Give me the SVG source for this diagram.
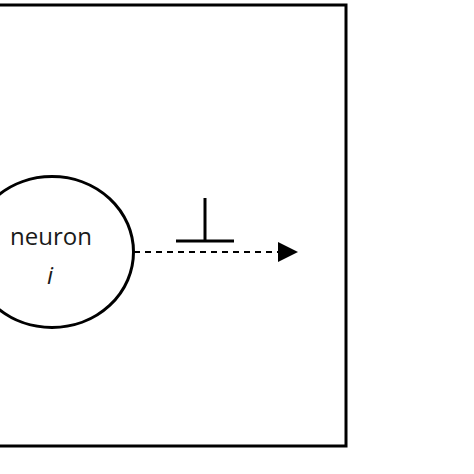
<svg xmlns="http://www.w3.org/2000/svg" width="474" height="474" viewBox="0 0 474 474">
<style>
.line{stroke:#000;stroke-width:3;fill:none}
.lbl{font-family:"Open Sans","Noto Sans",sans-serif;font-size:24px;fill:#1a1a1a;text-anchor:middle}
</style>
<defs>
<marker id="arrow" markerWidth="20" markerHeight="20" refX="0" refY="10" orient="auto" markerUnits="userSpaceOnUse">
<path d="M0,0 L20,10 L0,20 Z" fill="#000"/>
</marker>
</defs>
<rect width="474" height="474" fill="#fff"/>
<g id="frame">
<rect x="-10" y="5" width="356" height="441" class="line"/>
</g>
<g id="neuron">
<ellipse cx="52" cy="252" rx="81.5" ry="75.5" class="line"/>
<text x="51" y="245" class="lbl">neuron</text>
<text x="50" y="284" class="lbl" font-style="italic" font-size="28">i</text>
</g>
<g id="inhibit">
<line x1="205" y1="198" x2="205" y2="241" class="line"/>
<line x1="176" y1="241" x2="234" y2="241" class="line"/>
</g>
<g id="connectors">
<line x1="134" y1="252" x2="278" y2="252" stroke="#000" stroke-width="2" stroke-dasharray="6,5" marker-end="url(#arrow)"/>
</g>
</svg>
